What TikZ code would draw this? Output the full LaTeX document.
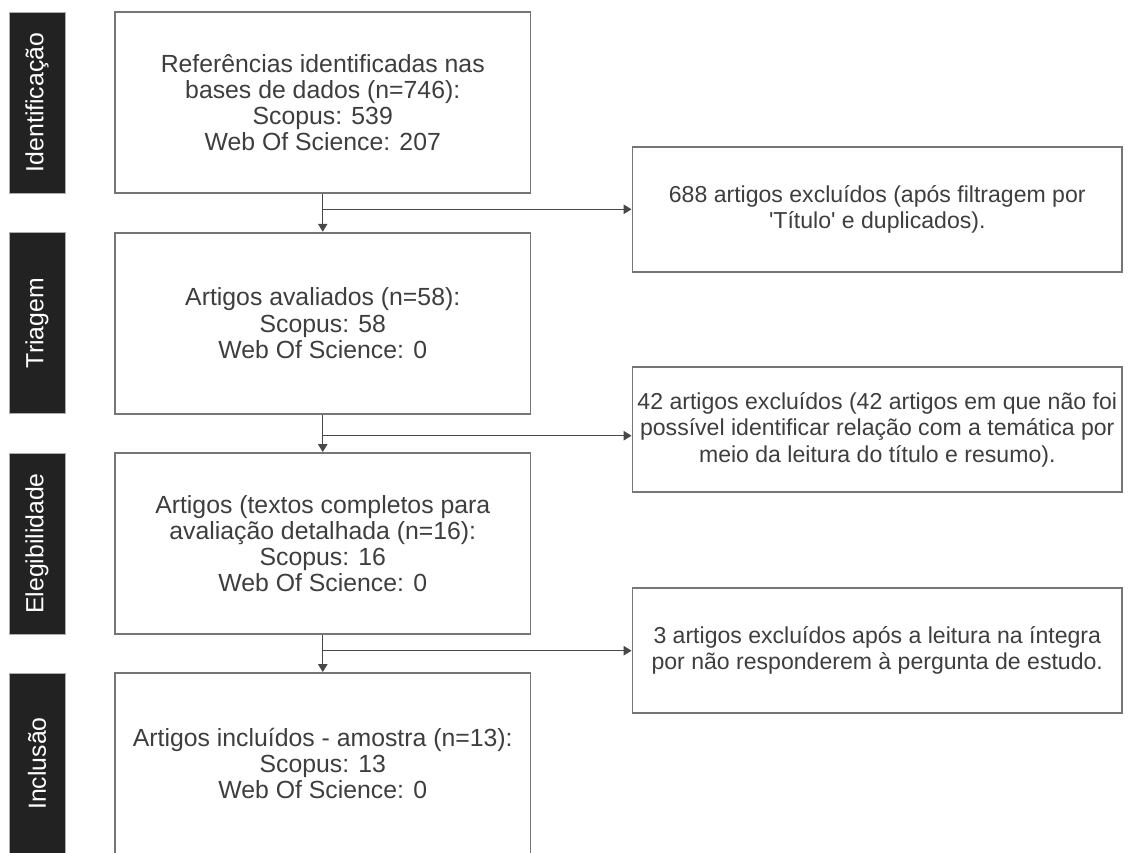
\documentclass[tikz,border=0pt]{standalone}
\usepackage{fontspec}
\setmainfont{Liberation Sans}
\usetikzlibrary{arrows.meta}

\definecolor{txtgray}{RGB}{62,62,62}
\definecolor{boxgray}{RGB}{118,118,118}
\definecolor{arrowgray}{RGB}{72,72,72}
\definecolor{barblack}{RGB}{34,34,34}

\tikzset{every picture/.style={line width=0.75pt}}
\tikzset{
  stagebar/.style={rotate=90,fill=barblack,draw=boxgray!60,line width=0.6pt,
    minimum width=135.75pt,minimum height=42pt,inner sep=0pt,
    text=white,font=\fontsize{18.6}{19.5}\selectfont},
  stagebox/.style={draw=boxgray,line width=1.4pt,fill=white,
    minimum width=311.6pt,minimum height=135.75pt,inner sep=1pt,
    align=center,text=txtgray,font=\fontsize{18.6}{19.6}\selectfont},
  exclbox/.style={draw=boxgray,line width=1.4pt,fill=white,
    minimum width=367.1pt,minimum height=93.5pt,inner sep=1pt,
    align=center,text=txtgray,font=\fontsize{17.3}{19.9}\selectfont},
  flow/.style={draw=arrowgray,line width=1.1pt,
    -{Triangle[width=7pt,length=6pt]}},
}

\begin{document}
\begin{tikzpicture}[x=0.75pt,y=0.75pt,yscale=-1,xscale=1]
	\useasboundingbox (0,0) rectangle (1137,852);
	\clip (0,0) rectangle (1137,852);

	%Stage labels
	\node[stagebar] (barid) at (37,102.5) {Identificação};
	\node[stagebar] (bartri) at (37,323.2) {Triagem};
	\node[stagebar] (barele) at (37,543.5) {Elegibilidade};
	\node[stagebar] (barinc) at (37,763.5) {Inclusão};

	%Main boxes
	\node[stagebox] (ident) at (322.75,102.5) {Referências identificadas nas\\bases de dados (n=746):\\Scopus: 539\\Web Of Science: 207};
	\node[stagebox] (triag) at (322.75,323.2) {Artigos avaliados (n=58):\\Scopus: 58\\Web Of Science: 0};
	\node[stagebox] (eleg) at (322.75,543.5) {Artigos (textos completos para\\avaliação detalhada (n=16):\\Scopus: 16\\Web Of Science: 0};
	\node[stagebox] (incl) at (322.75,763.5) {Artigos incluídos - amostra (n=13):\\Scopus: 13\\Web Of Science: 0};

	%Excluded boxes
	\node[exclbox] (excla) at (877.25,209.5) {688 artigos excluídos (após filtragem por\\\textquotesingle Título\textquotesingle{} e duplicados).};
	\node[exclbox] (exclb) at (877.25,429.5) {42 artigos excluídos (42 artigos em que não foi\\possível identificar relação com a temática por\\meio da leitura do título e resumo).};
	\node[exclbox] (exclc) at (877.25,650.5) {3 artigos excluídos após a leitura na íntegra\\por não responderem à pergunta de estudo.};

	%Branch points
	\coordinate (bra) at (322.75,209.3);
	\coordinate (brb) at (322.75,435.7);
	\coordinate (brc) at (322.75,650.7);

	%Arrows
	\draw[flow] (ident.south) -- (triag.north);
	\draw[flow] (triag.south) -- (eleg.north);
	\draw[flow] (eleg.south) -- (incl.north);
	\draw[flow] (bra) -- (bra -| excla.west);
	\draw[flow] (brb) -- (brb -| exclb.west);
	\draw[flow] (brc) -- (brc -| exclc.west);

\end{tikzpicture}
\end{document}
